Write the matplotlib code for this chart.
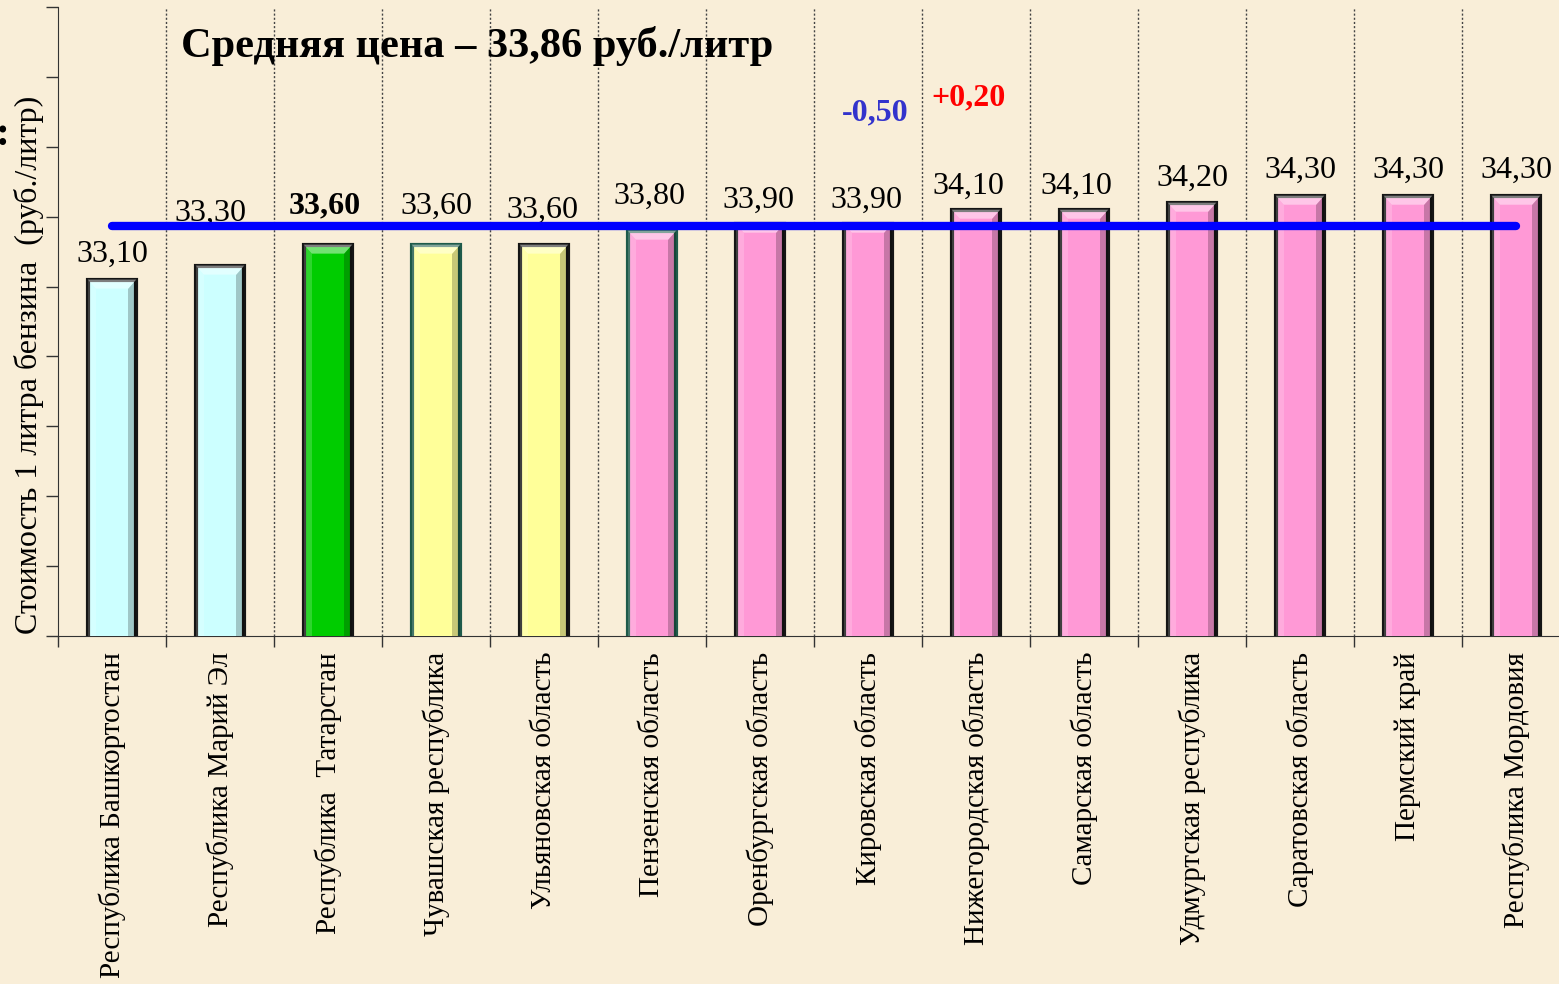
import numpy as np
import matplotlib.pyplot as plt

regions = ["Республика Башкортостан", "Республика Марий Эл", "Республика  Татарстан",
           "Чувашская республика", "Ульяновская область", "Пензенская область",
           "Оренбургская область", "Кировская область", "Нижегородская область",
           "Самарская область", "Удмуртская республика", "Саратовская область",
           "Пермский край", "Республика Мордовия"]
prices = [33.10, 33.30, 33.60, 33.60, 33.60, 33.80, 33.90, 33.90, 34.10, 34.10,
          34.20, 34.30, 34.30, 34.30]
colors = ["#CCFFFF", "#CCFFFF", "#00CC00", "#FFFF99", "#FFFF99"] + ["#FF99D6"] * 9
edges = ["#151515", "#151515", "#151515", "#1E5A4A", "#151515", "#1E5A4A"] + ["#151515"] * 8
average = 33.86
changes = ["-0,50", "+0,20"]
change_colors = ["#3333CC", "#FF0000"]

# hand-placed label positions (pixels): gap above bar top, horizontal shift
label_gap = [18, 45, 31, 31, 27, 27, 16, 16, 16, 16, 17, 18, 18, 18]
label_dx = [0, -10, -3, 0, -2, -3, -2, -2, -8, -8, 0, 0, 0, 0]
change_pos = [(7.065, 35.48), (7.93, 35.70)]

plt.rcParams['font.family'] = ['Liberation Serif', 'DejaVu Serif']

PX_Y = 69.9   # pixels per rouble
PX_X = 108.0  # pixels per category


def bevel(ax, xc, top, w, color):
    d = 0.075
    h = 9 / PX_Y
    l, r = xc - w / 2, xc + w / 2
    # top light face
    ax.fill([l, r, r - d, l + d], [top, top, top - h, top - h],
            color="white", alpha=0.45, lw=0, zorder=4)
    # right shadow
    ax.fill([r, r, r - d, r - d], [top, 28, 28, top - h],
            color="black", alpha=0.22, lw=0, zorder=4)
    # left highlight
    ax.fill([l, l, l + d, l + d], [top, 28, 28, top - h],
            color="white", alpha=0.18, lw=0, zorder=4)


def main():
    bg = "#F9EEd8"
    fig = plt.figure(figsize=(15.59, 9.84), dpi=100, facecolor=bg)
    ax = fig.add_axes([58 / 1559, 348 / 984, 1512 / 1559, 629 / 984])
    ax.set_facecolor(bg)

    x = np.arange(len(prices))
    w = 0.45
    ax.bar(x, prices, width=w, color=colors, edgecolor=edges,
           linewidth=3, zorder=3)
    for xi, p, c in zip(x, prices, colors):
        bevel(ax, xi, p, w, c)

    ax.set_xlim(-0.5, len(prices) - 0.5)
    ax.set_ylim(28, 37)
    ax.set_yticks(np.arange(28, 38, 1))
    ax.set_yticklabels([])
    ax.tick_params(axis="y", length=9, width=1, color="#333333", direction="out")

    ax.set_xticks([-0.5] + list(x + 0.5))
    ax.set_xticklabels([])
    ax.tick_params(axis="x", length=8, width=1, color="#333333", direction="out")
    for xi, name in zip(x, regions):
        ax.text(xi, 28 - 16 / PX_Y, name, rotation=90, ha="center", va="top",
                fontsize=21)

    for b in x[:-1] + 0.5:
        ax.axvline(b, color="#444444", linestyle=(0, (1.5, 1.5)), linewidth=1, zorder=1)

    for side in ["top", "right"]:
        ax.spines[side].set_visible(False)
    ax.spines["left"].set_color("#333333")
    ax.spines["bottom"].set_color("#333333")

    for xi, p, g, dx in zip(x, prices, label_gap, label_dx):
        label = ("%.2f" % p).replace(".", ",")
        weight = "bold" if xi == 2 else "normal"
        ax.text(xi + dx / PX_X, p + g / PX_Y, label, ha="center", va="baseline",
                fontsize=23, fontweight=weight)

    ax.plot([0, len(prices) - 1], [average, average], color="#0000FF",
            linewidth=6, solid_capstyle="round", zorder=5)

    for txt, col, (cx, cy) in zip(changes, change_colors, change_pos):
        ax.text(cx, cy, txt, ha="center", va="center",
                fontsize=23, fontweight="bold", color=col)

    fig.text(29 / 1559, 1 - 365 / 984, "Стоимость 1 литра бензина  (руб./литр)",
             fontsize=23, rotation=90, ha="center", va="center")
    fig.text(181 / 1559, 1 - 46 / 984, "Средняя цена – 33,86 руб./литр",
             fontsize=30.5, fontweight="bold", ha="left", va="center")
    fig.text(3 / 1559, 1 - 135 / 984, ":", fontsize=30, fontweight="bold",
             ha="center", va="center")

    fig.savefig("out.png", dpi=100, facecolor=bg)


if __name__ == '__main__':
    main()
